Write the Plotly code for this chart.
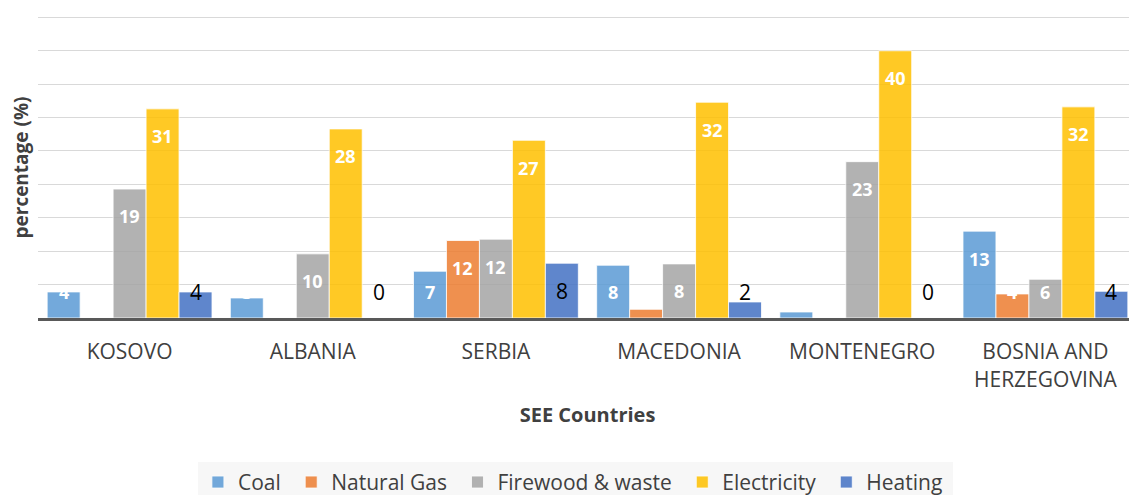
import plotly.graph_objects as go

# ---- data ----
countries = ["KOSOVO", "ALBANIA", "SERBIA", "MACEDONIA", "MONTENEGRO", "BOSNIA AND<br>HERZEGOVINA"]
series_names = ["Coal", "Natural Gas", "Firewood & waste", "Electricity", "Heating"]
coal = [3.9, 3.0, 7.0, 7.9, 0.9, 13.0]
natural_gas = [0.0, 0.0, 11.6, 1.3, 0.0, 3.6]
firewood = [19.3, 9.6, 11.8, 8.1, 23.4, 5.8]
electricity = [31.3, 28.3, 26.6, 32.3, 40.0, 31.6]
heating = [3.9, 0.0, 8.2, 2.4, 0.0, 4.0]
series_values = [coal, natural_gas, firewood, electricity, heating]
colors = ["#5B9BD5", "#ED7D31", "#A5A5A5", "#FFC000", "#4472C4"]

# ---- layout constants (page body has an 8px default margin) ----
W, H = 1129, 487
ML, MR, MT, MB = 30, 0, 6, 177
BARGAP = 0.1
YMAX = 45.5
plot_w = W - ML - MR
slot = plot_w / len(countries) * (1 - BARGAP) / len(series_names)
FONT = "Open Sans"
TXT = "#404040"

fig = go.Figure()
for name, vals, col in zip(series_names, series_values, colors):
    fig.add_trace(go.Bar(
        x=countries, y=vals, name=name + "\u00a0",
        marker=dict(color=col, line=dict(color="white", width=0.8)),
        opacity=0.85,
        hoverinfo="x+y",
    ))

# data labels (Excel style: inside end, clamped near the base)
annotations = []
n = len(series_names)
for i, (name, vals) in enumerate(zip(series_names, series_values)):
    shift = (i - (n - 1) / 2) * slot
    for c, v in zip(countries, vals):
        ly = max(v - 4.1, 3.9)
        if name == "Heating":
            f = dict(family=FONT, size=21, color="black")
            txt = f"{v:.0f}"
        else:
            f = dict(family=FONT, size=18, color="white")
            txt = f"<b>{v:.0f}</b>"
        annotations.append(dict(
            x=c, y=ly, xref="x", yref="y", xshift=shift,
            text=txt, showarrow=False, font=f, xanchor="center", yanchor="middle",
        ))

# y-axis title as a rotated annotation (placed closer than standoff allows)
annotations.append(dict(
    text="<b>percentage (%)</b>", textangle=-90, showarrow=False,
    xref="paper", yref="paper", x=-(ML - 13) / plot_w, y=0.5 - 1.5 / (H - MT - MB),
    xanchor="center", yanchor="middle",
    font=dict(family=FONT, size=19, color=TXT),
))

fig.update_layout(
    width=W, height=H,
    margin=dict(l=ML, r=MR, t=MT, b=MB, autoexpand=False),
    paper_bgcolor="white", plot_bgcolor="white",
    barmode="group", bargap=BARGAP, bargroupgap=0,
    font=dict(family=FONT, color=TXT),
    annotations=annotations,
    legend=dict(
        orientation="h", x=0.489, xanchor="center", y=-0.478 * 301 / 304, yanchor="top",
        bgcolor="#f7f7f7", font=dict(family=FONT, size=21, color=TXT),
        itemwidth=30, traceorder="normal",
    ),
    xaxis=dict(
        showline=True, linecolor="#595959", linewidth=3,
        ticks="outside", ticklen=13, tickcolor="rgba(0,0,0,0)",
        tickfont=dict(family=FONT, size=21, color=TXT),
        title=dict(text="<b>SEE Countries</b>", font=dict(family=FONT, size=20, color=TXT), standoff=17),
        showgrid=False, automargin=False,
    ),
    yaxis=dict(
        range=[0, YMAX], dtick=5, showticklabels=False,
        showgrid=True, gridcolor="#d9d9d9", gridwidth=1, zeroline=False,
        automargin=False,
    ),
)

fig.write_html("out.html")
